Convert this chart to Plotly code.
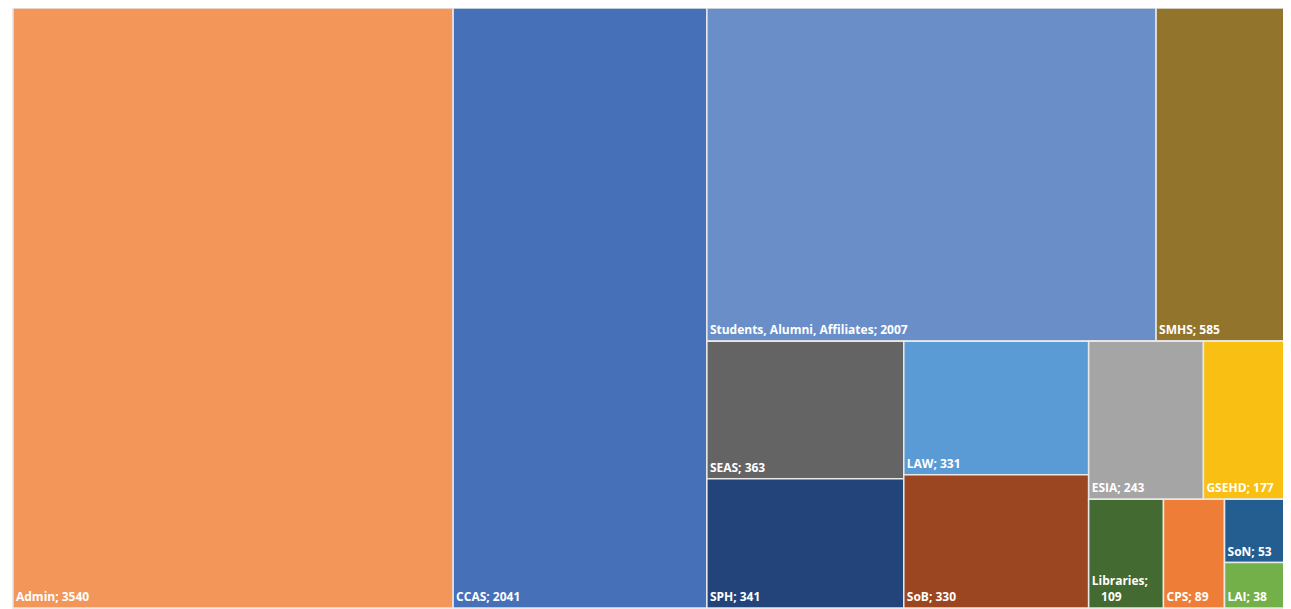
import plotly.graph_objects as go

# Leaf categories and their counts
categories = ["Admin", "CCAS", "Students, Alumni, Affiliates", "SMHS", "SEAS", "SPH",
              "LAW", "SoB", "ESIA", "GSEHD", "Libraries", "CPS", "SoN", "LAI"]
counts = [3540, 2041, 2007, 585, 363, 341, 331, 330, 243, 177, 109, 89, 53, 38]
leaf_colors = ["#F2965A", "#4670B8", "#6A8FC8", "#93742D", "#646464", "#23447A",
               "#5B9BD5", "#9C4621", "#A5A5A5", "#F9C013", "#426A31", "#EE7E37",
               "#245E91", "#74B049"]
leaf_parents = ["root", "root", "top", "top", "c1", "c1", "c2", "c2",
                "c3a", "c3a", "c3b", "c3b", "d", "d"]

# Invisible grouping nodes (reproduce the spreadsheet's tiling arrangement)
group_ids = ["root", "rest", "top", "bottom", "c1", "c2", "c3", "c3a", "c3b", "d"]
group_parents = ["", "root", "rest", "rest", "bottom", "bottom", "bottom", "c3", "c3", "c3b"]

# Data order determines placement (sort disabled)
order = [("g", "root"), ("l", "Admin"), ("l", "CCAS"), ("g", "rest"), ("g", "top"),
         ("l", "Students, Alumni, Affiliates"), ("l", "SMHS"), ("g", "bottom"),
         ("g", "c1"), ("l", "SEAS"), ("l", "SPH"), ("g", "c2"), ("l", "LAW"), ("l", "SoB"),
         ("g", "c3"), ("g", "c3a"), ("l", "ESIA"), ("l", "GSEHD"), ("g", "c3b"),
         ("l", "Libraries"), ("l", "CPS"), ("g", "d"), ("l", "SoN"), ("l", "LAI")]

ids, labels, parents, values, colors, texts = [], [], [], [], [], []
for kind, key in order:
    if kind == "g":
        i = group_ids.index(key)
        ids.append(key)
        labels.append("")
        parents.append(group_parents[i])
        values.append(0)
        colors.append("#FFFFFF")
        texts.append("")
    else:
        i = categories.index(key)
        ids.append(key)
        labels.append(key)
        parents.append(leaf_parents[i])
        values.append(counts[i])
        colors.append(leaf_colors[i])
        sep = ";<br>   " if key == "Libraries" else "; "
        texts.append(f"{key}{sep}{counts[i]}")

fig = go.Figure(go.Treemap(
    ids=ids,
    labels=labels,
    parents=parents,
    values=values,
    text=texts,
    textinfo="text",
    textposition="bottom left",
    textfont=dict(family="Open Sans", size=12, color="white", weight="bold"),
    branchvalues="remainder",
    sort=False,
    tiling=dict(packing="slice-dice", pad=0),
    marker=dict(colors=colors, line=dict(color="#E8E8E8", width=1.5),
                pad=dict(t=0, l=0, r=0, b=0)),
    pathbar=dict(visible=False),
    root=dict(color="white"),
    hoverinfo="skip",
))

fig.update_layout(
    width=1283, height=601,
    margin=dict(l=5, r=4, t=0, b=1),
    paper_bgcolor="white",
    showlegend=False,
)

fig.write_html("out.html")
